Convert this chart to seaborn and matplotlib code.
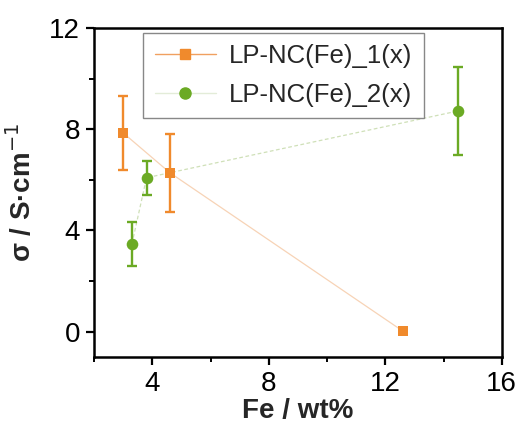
import matplotlib
matplotlib.use("Agg")
import matplotlib.pyplot as plt
from matplotlib.lines import Line2D
from matplotlib.ticker import MultipleLocator
import seaborn as sns
import pandas as pd

# Conductivity vs. Fe content for two LP-NC(Fe) series
series_names = ["LP-NC(Fe)_1(x)", "LP-NC(Fe)_2(x)"]

fe1 = [3.0, 4.6, 12.6]
sigma1 = [7.85, 6.28, 0.02]
err1 = [1.45, 1.54, 0.0]

fe2 = [3.3, 3.8, 14.5]
sigma2 = [3.47, 6.08, 8.72]
err2 = [0.87, 0.67, 1.74]

x_ticks = [4, 8, 12, 16]
y_ticks = [0, 4, 8, 12]

orange = "#F08A2C"
green = "#6BAA24"

sns.set_theme(style="ticks")
plt.rcParams["font.family"] = ["Liberation Sans", "DejaVu Sans"]

fig = plt.figure(figsize=(5.2, 4.3), dpi=100)
ax = fig.add_axes([0.181, 0.170, 0.784, 0.765])

df1 = pd.DataFrame({"fe": fe1, "sigma": sigma1, "err": err1})
df2 = pd.DataFrame({"fe": fe2, "sigma": sigma2, "err": err2})

# thin connecting lines
sns.lineplot(data=df1, x="fe", y="sigma", ax=ax, color="#F7D3B6", lw=0.9,
             sort=False, legend=False, zorder=1)
sns.lineplot(data=df2, x="fe", y="sigma", ax=ax, color="#CFE0B8", lw=0.9,
             linestyle=(0, (3, 2)), sort=False, legend=False, zorder=1)

# error bars (only where an error is given)
e1 = df1[df1["err"] > 0]
ax.errorbar(e1["fe"], e1["sigma"], yerr=e1["err"], fmt="none",
            ecolor=orange, elinewidth=1.7, capsize=3.5, capthick=1.7, zorder=2)
ax.errorbar(df2["fe"], df2["sigma"], yerr=df2["err"], fmt="none",
            ecolor=green, elinewidth=1.7, capsize=3.5, capthick=1.7, zorder=2)

# markers
sns.scatterplot(data=df1, x="fe", y="sigma", ax=ax, marker="s", s=55,
                color=orange, edgecolor=orange, linewidth=0, zorder=3)
sns.scatterplot(data=df2, x="fe", y="sigma", ax=ax, marker="o", s=70,
                color=green, edgecolor=green, linewidth=0, zorder=3)

ax.set_xlim(2, 16)
ax.set_ylim(-1, 12)
ax.set_xticks(x_ticks)
ax.set_yticks(y_ticks)
ax.xaxis.set_minor_locator(MultipleLocator(2))
ax.yaxis.set_minor_locator(MultipleLocator(2))
ax.tick_params(which="major", direction="out", length=6, width=1.6,
               labelsize=20, color="black", labelcolor="black", pad=4)
ax.tick_params(which="minor", direction="out", length=3.5, width=1.4,
               color="black")
ax.tick_params(top=False, right=False, which="both")

for sp in ax.spines.values():
    sp.set_linewidth(1.8)
    sp.set_color("black")

ax.set_xlabel("Fe / wt%", fontsize=20, fontweight="bold", labelpad=1)
ax.set_ylabel(r"σ / S·cm$^{-1}$", fontsize=20, fontweight="bold",
              labelpad=9)

handles = [
    Line2D([0], [0], color="#F0A060", lw=1.0, marker="s", markersize=7,
           markerfacecolor=orange, markeredgecolor=orange),
    Line2D([0], [0], color="#E3ECD8", lw=1.0, marker="o", markersize=8,
           markerfacecolor=green, markeredgecolor=green),
]
leg = ax.legend(handles, series_names, loc="upper left",
                bbox_to_anchor=(0.12, 0.985), fontsize=18.5, frameon=True,
                fancybox=False, edgecolor="#888888", framealpha=1,
                handlelength=2.4, handletextpad=0.5, borderpad=0.45,
                labelspacing=0.55, borderaxespad=0)
leg.get_frame().set_linewidth(1.0)

fig.savefig("out.png", dpi=100)
